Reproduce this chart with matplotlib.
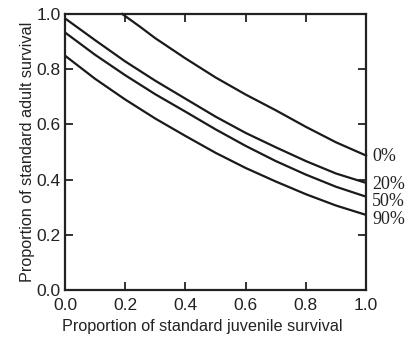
import numpy as np
import matplotlib.pyplot as plt

# Daten
juv = [0.0, 0.1, 0.2, 0.3, 0.4, 0.5, 0.6, 0.7, 0.8, 0.9, 1.0]
juv_0 = [0.19, 0.25, 0.3, 0.4, 0.5, 0.6, 0.7, 0.8, 0.9, 1.0]
adult_0 = [1.0, 0.953, 0.912, 0.839, 0.77, 0.708, 0.651, 0.591, 0.535, 0.487]
adult_20 = [0.984, 0.905, 0.828, 0.758, 0.693, 0.628, 0.569, 0.517, 0.467, 0.422, 0.388]
adult_50 = [0.933, 0.852, 0.778, 0.709, 0.646, 0.582, 0.522, 0.467, 0.418, 0.374, 0.338]
adult_90 = [0.849, 0.765, 0.69, 0.621, 0.558, 0.497, 0.442, 0.393, 0.347, 0.306, 0.272]
labels = ['0%', '20%', '50%', '90%']
label_y = [0.482, 0.384, 0.319, 0.254]

plt.rcParams['font.family'] = ['Liberation Sans', 'DejaVu Sans']

fig = plt.figure(figsize=(4.1, 3.4), dpi=100)
ax = fig.add_axes([0.1585, 0.147, 0.7345, 0.812])

lw = 1.6
ax.plot(juv_0, adult_0, color='#1a1a1a', lw=lw, clip_on=False)
ax.plot(juv, adult_20, color='#1a1a1a', lw=lw)
ax.plot(juv, adult_50, color='#1a1a1a', lw=lw)
ax.plot(juv, adult_90, color='#1a1a1a', lw=lw)

for lab, yv in zip(labels, label_y):
    ax.text(1.02, yv, lab, family='Liberation Serif', fontsize=13,
            color='#222222', va='center', ha='left', clip_on=False)

ax.set_xlim(0, 1)
ax.set_ylim(0, 1)
ticks = [0.0, 0.2, 0.4, 0.6, 0.8, 1.0]
ax.set_xticks(ticks)
ax.set_yticks(ticks)
ax.set_xticklabels(['%.1f' % t for t in ticks])
ax.set_yticklabels(['%.1f' % t for t in ticks])
ax.tick_params(direction='in', length=6, width=1.3, top=True, right=True,
               labelsize=12.5, colors='#222222')
ax.tick_params(axis='x', pad=6)
ax.tick_params(axis='y', pad=3)
for sp in ax.spines.values():
    sp.set_linewidth(1.6)
    sp.set_color('#222222')

ax.set_xlabel('Proportion of standard juvenile survival', fontsize=11.7, color='#222222')
ax.xaxis.set_label_coords(0.455, -0.105)
ax.set_ylabel('Proportion of standard adult survival', fontsize=11.7, color='#222222', labelpad=1)

plt.savefig('out.png', dpi=100)
